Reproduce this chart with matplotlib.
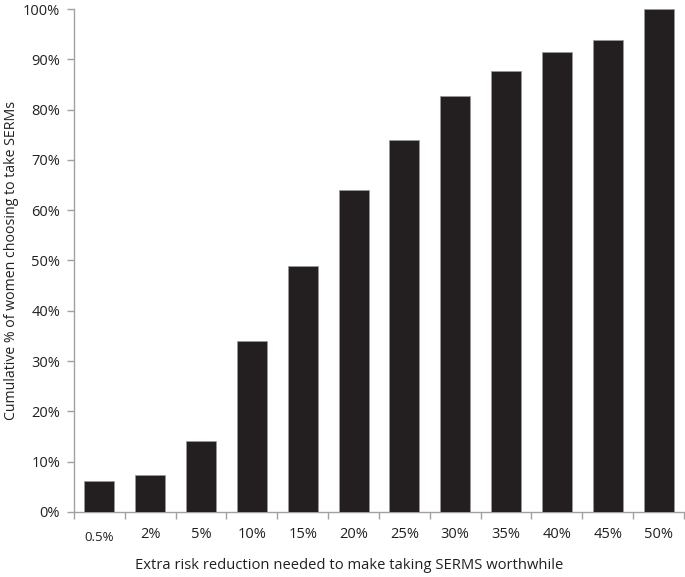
import matplotlib
matplotlib.use("Agg")
import matplotlib.pyplot as plt
import numpy as np
from matplotlib.ticker import FixedLocator, PercentFormatter

categories = ["0.5%", "2%", "5%", "10%", "15%", "20%", "25%", "30%", "35%", "40%", "45%", "50%"]
values = [6.2, 7.4, 14.1, 34.0, 49.0, 64.0, 74.0, 82.7, 87.7, 91.4, 93.8, 100.0]

plt.rcParams['font.family'] = ['Open Sans', 'DejaVu Sans']

fig = plt.figure(figsize=(6.85, 5.77), dpi=100)
ax = fig.add_axes([0.108, 0.1127, 0.8905, 0.8717])

x = np.arange(len(categories))
ax.bar(x, values, width=0.59, color="#231f20", edgecolor="#9a9a9a", linewidth=0.5, zorder=3)

ax.set_xlim(-0.5, len(categories) - 0.5)
ax.set_ylim(0, 100)
ax.set_yticks(np.arange(0, 101, 10))
ax.yaxis.set_major_formatter(PercentFormatter(decimals=0))

ax.set_xticks(x)
ax.set_xticklabels(categories)
ax.xaxis.set_minor_locator(FixedLocator(np.arange(-0.5, len(categories), 1.0)))
ax.tick_params(axis='x', which='major', length=0, pad=11, labelsize=10.5, colors='#231f20')
ax.tick_params(axis='x', which='minor', length=5, color='#a0a0a0', width=1)
ax.tick_params(axis='y', length=5, color='#a0a0a0', width=1, labelsize=10.5, labelcolor='#231f20', pad=5)

lbl0 = ax.get_xticklabels()[0]
lbl0.set_fontsize(9.5)
lbl0.set_y(-0.007)

for s in ['top', 'right']:
    ax.spines[s].set_visible(False)
for s in ['left', 'bottom']:
    ax.spines[s].set_color('#a0a0a0')
    ax.spines[s].set_linewidth(1)

ax.set_xlabel("Extra risk reduction needed to make taking SERMS worthwhile", fontsize=10.6, color='#231f20', labelpad=10)
ax.xaxis.label.set_x(0.451)
ax.set_ylabel("Cumulative % of women choosing to take SERMs", fontsize=10.2, color='#231f20', labelpad=3)

fig.savefig("out.png", dpi=100)
